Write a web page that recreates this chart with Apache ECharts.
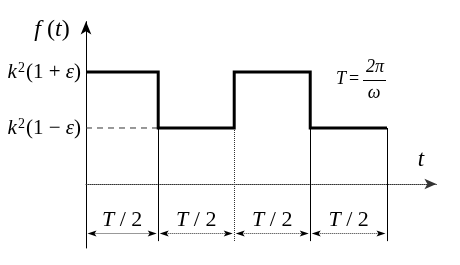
<!DOCTYPE html>
<html><head><meta charset="utf-8">
<script src="https://cdn.jsdelivr.net/npm/echarts@6/dist/echarts.min.js"></script>
<style>html,body{margin:0;padding:0;background:#fff}#c{width:460px;height:265px}</style>
</head><body><div id="c"></div>
<script>
// switching instants on the t axis
const bounds = [0, 0.95, 1.95, 2.95, 3.96];
// f(t) level on each half period: 2 = k²(1+ε), 1 = k²(1−ε)
const levels = [2, 1, 2, 1];
// y tick values and their labels
const yTicks = [1, 2];
const yTickLabels = ['{i|k}{s|2}{r|(1 − }{i|ε}{r|)}', '{i|k}{s|2}{r|(1 + }{i|ε}{r|)}'];
// dimension labels for each half period
const halfLabels = ['{i|T}{r| / 2}', '{i|T}{r| / 2}', '{i|T}{r| / 2}', '{i|T}{r| / 2}'];
// guide line style at each switching instant (index 0 is the f axis itself)
const guideDash = [null, 'solid', 'dotted', 'solid', 'solid'];
const dimLevel = -0.875;
const guideBottom = -1.02;
const xMin = 0, xMax = 4.61, yMin = -1.143, yMax = 2.9;

const FONT = 'Liberation Serif';
const rich = {
  i: { fontFamily: FONT, fontStyle: 'italic', fontSize: 21, color: '#000' },
  r: { fontFamily: FONT, fontSize: 21, color: '#000' },
  s: { fontFamily: FONT, fontSize: 14, color: '#000', verticalAlign: 'top', padding: [0, 1, 0, 1] }
};
const richDim = {
  i: { fontFamily: FONT, fontStyle: 'italic', fontSize: 22, color: '#000' },
  r: { fontFamily: FONT, fontSize: 22, color: '#000' }
};

const stepData = [];
levels.forEach((v, i) => { stepData.push([bounds[i], v], [bounds[i + 1], v]); });
const lowLevel = Math.min.apply(null, levels);

const chart = echarts.init(document.getElementById('c'), null, { renderer: 'canvas' });
chart.setOption({
  animation: false,
  backgroundColor: '#fff',
  grid: { left: 86, top: 21.6, right: 23.6, bottom: 17, containLabel: false },
  xAxis: {
    type: 'value', min: xMin, max: xMax,
    axisLine: { onZero: true, symbol: ['none', 'arrow'], symbolSize: [8, 12],
      lineStyle: { color: '#333', width: 1, type: [1, 1] } },
    axisTick: { show: false }, axisLabel: { show: false }, splitLine: { show: false }
  },
  yAxis: {
    type: 'value', min: yMin, max: yMax,
    axisLine: { show: true, symbol: ['none', 'arrow'], symbolSize: [8, 13],
      lineStyle: { color: '#000', width: 1 } },
    axisTick: { show: false }, splitLine: { show: false },
    axisLabel: {
      customValues: yTicks, margin: 5, rich: rich,
      formatter: v => yTickLabels[yTicks.indexOf(v)]
    }
  },
  graphic: [
    { type: 'text', x: 52, y: 30, style: { text: '{i|f}{r| (}{i|t}{r|)}', rich: { i: Object.assign({}, rich.i, { fontSize: 24 }), r: Object.assign({}, rich.r, { fontSize: 24 }) }, textAlign: 'center', textVerticalAlign: 'middle', align: 'center', verticalAlign: 'middle' } },
    { type: 'text', x: 421, y: 160, style: { text: 't', font: 'italic 23px ' + FONT, fill: '#000', textAlign: 'center', textVerticalAlign: 'middle', align: 'center', verticalAlign: 'middle' } },
    { type: 'text', x: 341, y: 79, style: { text: 'T', font: 'italic 18px ' + FONT, fill: '#000', textAlign: 'center', textVerticalAlign: 'middle', align: 'center', verticalAlign: 'middle' } },
    { type: 'text', x: 354, y: 79, style: { text: '=', font: '18px ' + FONT, fill: '#000', textAlign: 'center', textVerticalAlign: 'middle', align: 'center', verticalAlign: 'middle' } },
    { type: 'text', x: 375, y: 67, style: { text: '2π', font: 'italic 18px ' + FONT, fill: '#000', textAlign: 'center', textVerticalAlign: 'middle', align: 'center', verticalAlign: 'middle' } },
    { type: 'line', shape: { x1: 363, y1: 80.5, x2: 386, y2: 80.5 }, style: { stroke: '#000', lineWidth: 1 } },
    { type: 'text', x: 374, y: 93, style: { text: 'ω', font: 'italic 18px ' + FONT, fill: '#000', textAlign: 'center', textVerticalAlign: 'middle', align: 'center', verticalAlign: 'middle' } }
  ],
  series: [
    { // dashed reference at the low level
      type: 'line', data: [[bounds[0], lowLevel], [bounds[1], lowLevel]],
      showSymbol: false, silent: true,
      lineStyle: { color: '#333', width: 1, type: [6, 5] }, z: 1
    },
    { // guide lines at switching instants
      type: 'custom', silent: true, z: 1,
      data: bounds.map((b, i) => [b, lowLevel, guideBottom, i]).slice(1),
      renderItem: function (params, api) {
        const idx = params.dataIndex + 1;
        const a = api.coord([api.value(0), api.value(1)]);
        const b = api.coord([api.value(0), api.value(2)]);
        const x = Math.round(a[0]) + 0.5;
        return { type: 'line', shape: { x1: x, y1: a[1], x2: x, y2: b[1] },
          style: { stroke: guideDash[idx] === 'dotted' ? '#333' : '#000', lineWidth: 1,
                   lineDash: guideDash[idx] === 'dotted' ? [1, 1] : null } };
      }
    },
    { // dimension arrows with T/2 labels
      type: 'custom', silent: true, z: 2,
      data: halfLabels.map((l, i) => [bounds[i], bounds[i + 1], dimLevel]),
      renderItem: function (params, api) {
        const a = api.coord([api.value(0), api.value(2)]);
        const b = api.coord([api.value(1), api.value(2)]);
        const g = 1.5, L = 9, W = 3;
        const x0 = a[0] + g, x1 = b[0] - g, y = Math.round(a[1]) + 0.5;
        return { type: 'group', children: [
          { type: 'line', shape: { x1: x0 + 4, y1: y, x2: x1 - 4, y2: y }, style: { stroke: '#333', lineWidth: 1, lineDash: [1, 1] } },
          { type: 'polygon', shape: { points: [[x0, y], [x0 + L, y - W], [x0 + L - 2, y], [x0 + L, y + W]] }, style: { fill: '#000' } },
          { type: 'polygon', shape: { points: [[x1, y], [x1 - L, y - W], [x1 - L + 2, y], [x1 - L, y + W]] }, style: { fill: '#000' } },
          { type: 'text', x: (x0 + x1) / 2, y: y - 13, style: { text: halfLabels[params.dataIndex], rich: richDim, align: 'center', verticalAlign: 'middle' } }
        ] };
      }
    },
    { // f(t)
      type: 'line', data: stepData, showSymbol: false, silent: true, z: 3,
      lineStyle: { color: '#000', width: 3, cap: 'butt', join: 'miter' }
    }
  ]
});
</script></body></html>
